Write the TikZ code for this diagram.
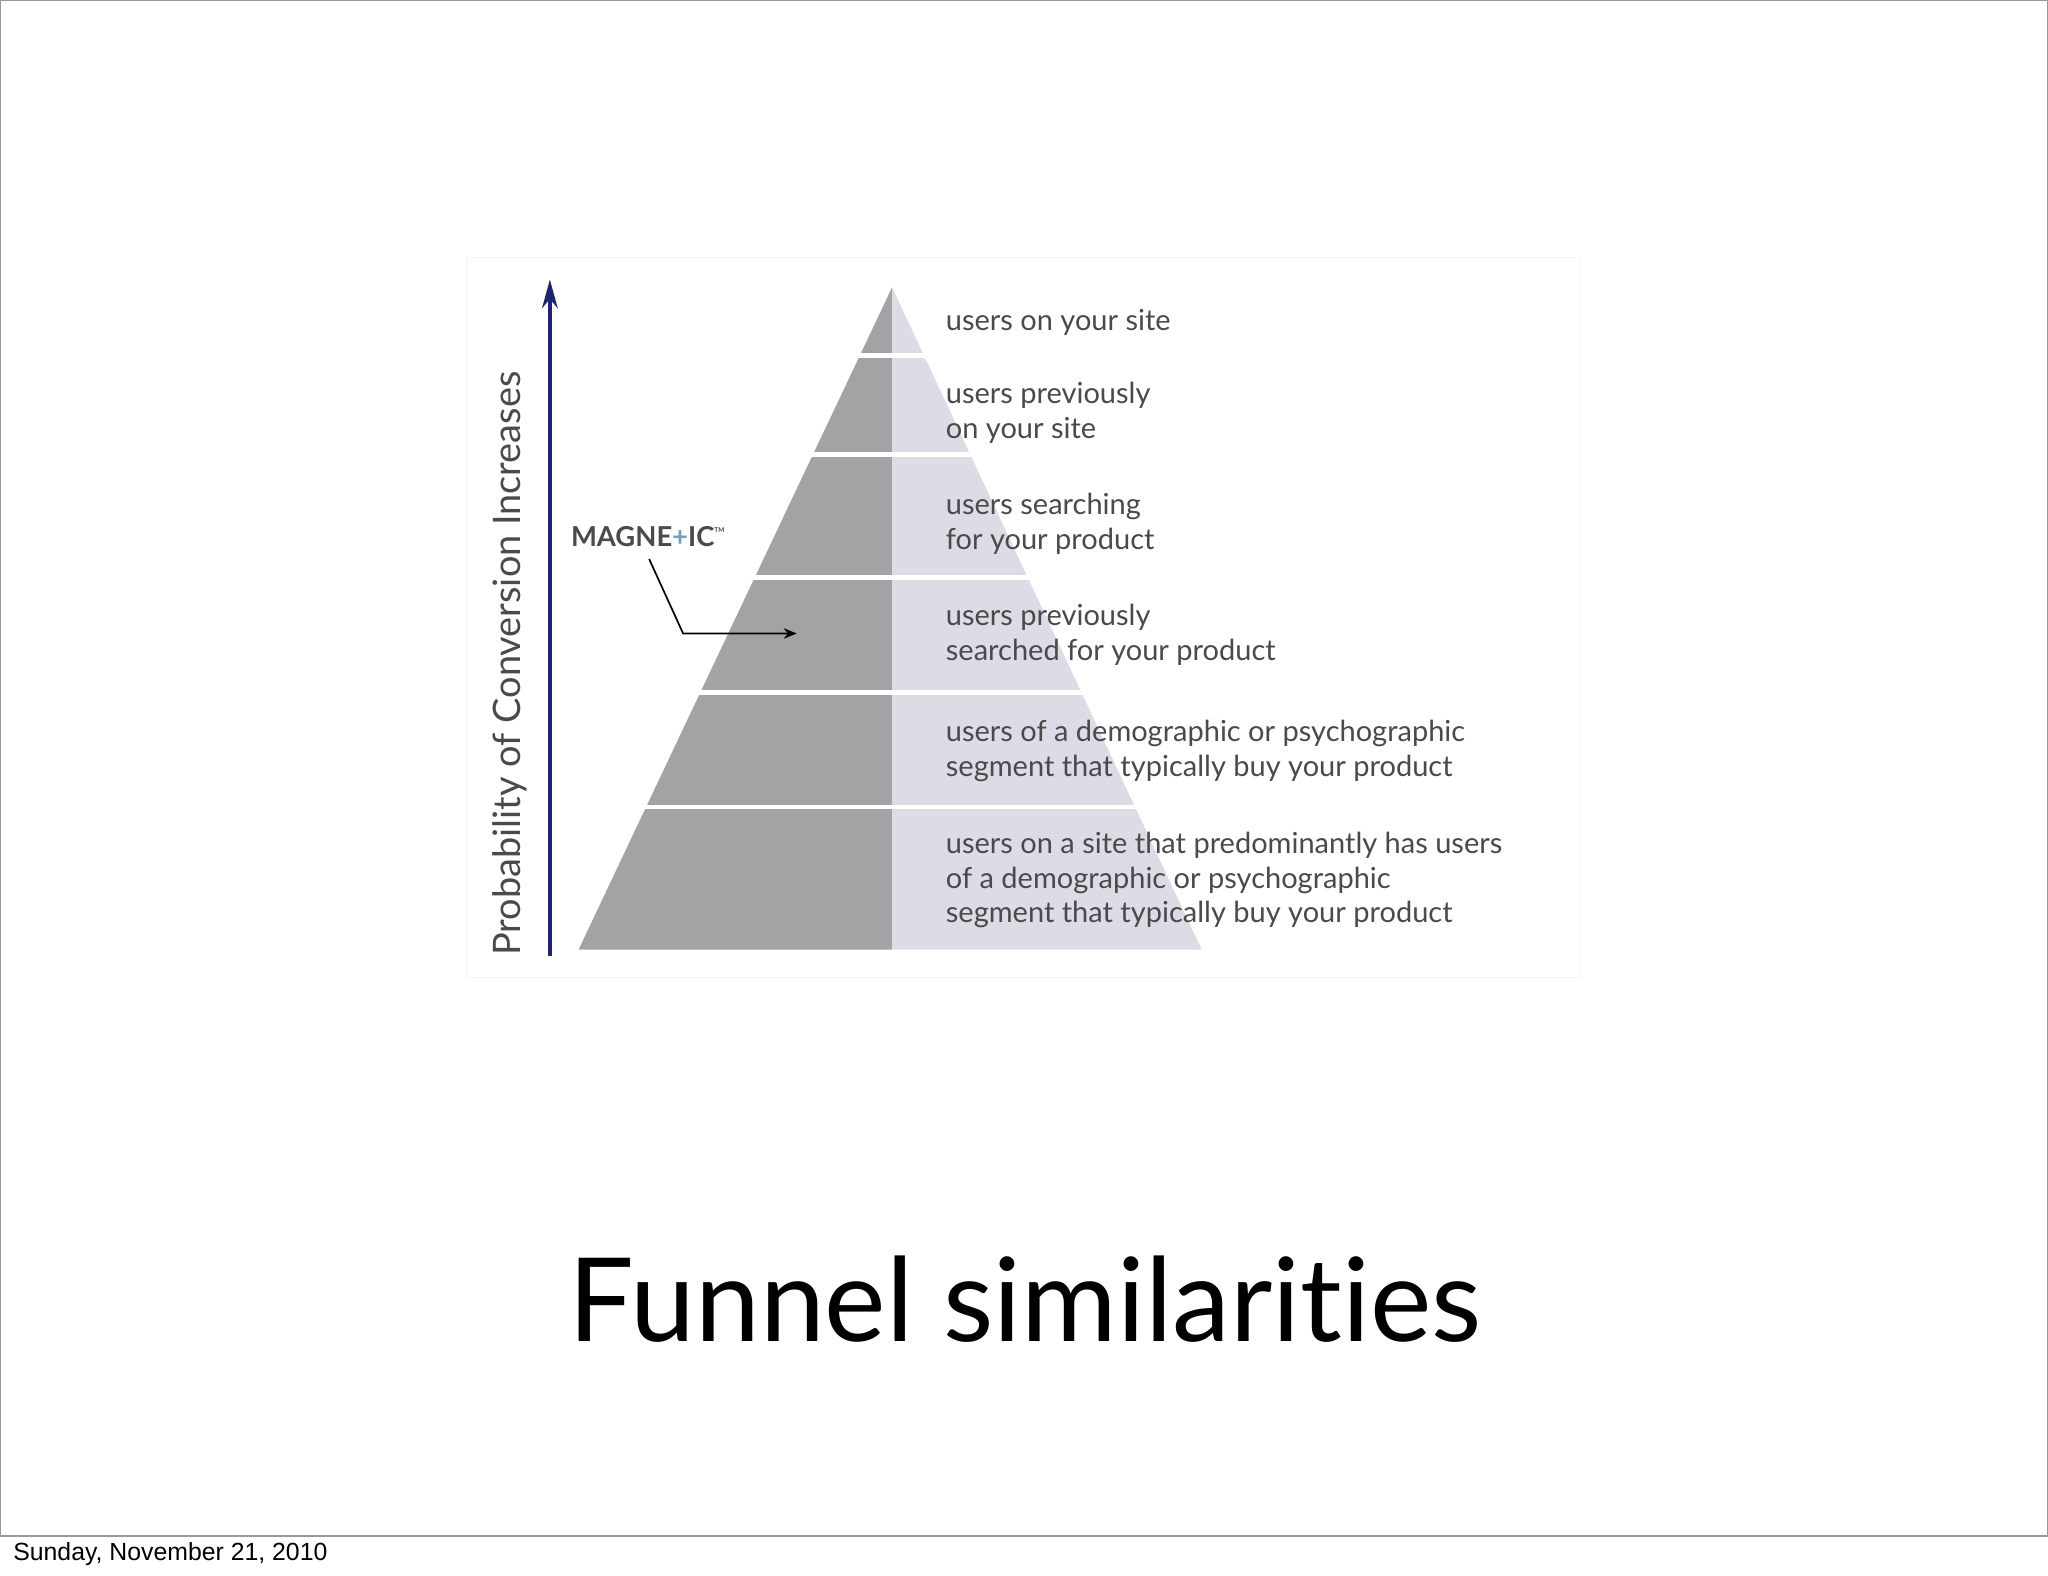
\documentclass[tikz,border=0pt]{standalone}
\usepackage{fontspec}
\setmainfont{Lato}
\newfontfamily\footfont{Liberation Sans}
\newfontfamily\titlefont[Ligatures=CommonOff]{Lato}
\definecolor{darkg}{HTML}{A3A3A5}
\definecolor{lightg}{HTML}{DCDCE6}
\definecolor{navy}{HTML}{1E2470}
\definecolor{txt}{HTML}{4A4A4A}
\usetikzlibrary{arrows.meta}
\begin{document}
\begin{tikzpicture}[x=1pt,y=-1pt,
  lbl/.style={anchor=west,font=\fontsize{22.2}{26.5}\selectfont,text=txt,align=left,inner sep=0pt}]
\useasboundingbox (0,0) rectangle (1568,1206.6);
\fill[white] (0,0) rectangle (1568,1206.6);
\draw[gray!80,line width=1pt] (0.5,0.5) rectangle (1567.5,1176);
\draw[gray!8] (357,197) rectangle (1210,748);
% pyramid
\fill[darkg] (683,220) -- (443,727) -- (683,727) -- cycle;
\fill[lightg] (683,220) -- (920,727) -- (683,727) -- cycle;
\foreach \y in {272,348,442,530,618}
  \draw[white,line width=3.5pt] (430,\y) -- (940,\y);
% labels
\node[lbl] (l1) at (724,247) {users on your site};
\node[lbl] (l2) at (724,316) {users previously\\on your site};
\node[lbl] (l3) at (724,401) {users searching\\for your product};
\node[lbl] (l4) at (724,486) {users previously\\searched for your product};
\node[lbl] (l5) at (724,575) {users of a demographic or psychographic\\segment that typically buy your product};
\node[lbl] (l6) at (724,674) {users on a site that predominantly has users\\of a demographic or psychographic\\segment that typically buy your product};
% axis
\coordinate (ab) at (421,732);
\coordinate (at) at (421,214);
\draw[navy,line width=2.5pt,-{Stealth[length=22pt,width=12pt]}] (ab) -- (at);
\node[rotate=90,font=\fontsize{29}{32}\selectfont,text=txt] (ax) at (390,508) {Probability of Conversion Increases};
% magnetic
\node[anchor=west,font=\bfseries\fontsize{21}{24}\selectfont,text=txt,inner sep=0pt] (mag) at (437,411) {MAGNE\textcolor{cyan!40!gray}{+}IC\raisebox{1ex}{\tiny TM}};
\coordinate (m1) at (497,428);
\coordinate (m2) at (523,485);
\coordinate (m3) at (610,485);
\draw[black,line width=1.3pt,-{Stealth[length=10pt,width=8pt]}] (m1) -- (m2) -- (m3);
% title
\node[font=\titlefont\fontsize{89}{100}\selectfont] (title) at (785,995) {Funnel similarities};
\node[anchor=west,font=\footfont\fontsize{19}{21}\selectfont,inner sep=0pt] (foot) at (10,1190) {Sunday, November 21, 2010};
\end{tikzpicture}
\end{document}
